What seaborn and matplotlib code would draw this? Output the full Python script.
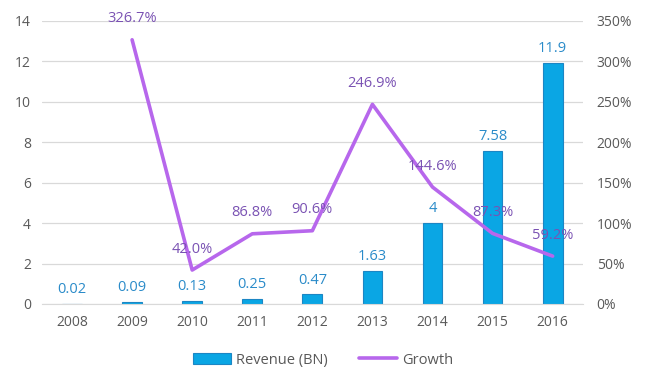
import numpy as np
import pandas as pd
import matplotlib
matplotlib.use("Agg")
import matplotlib.pyplot as plt
import seaborn as sns
from matplotlib.patches import Patch
from matplotlib.lines import Line2D

# data
years = ["2008", "2009", "2010", "2011", "2012", "2013", "2014", "2015", "2016"]
revenue = [0.02, 0.09, 0.13, 0.25, 0.47, 1.63, 4, 7.58, 11.9]
revenue_labels = ["0.02", "0.09", "0.13", "0.25", "0.47", "1.63", "4", "7.58", "11.9"]
growth = [np.nan, 326.7, 42.0, 86.8, 90.6, 246.9, 144.6, 87.3, 59.2]

sns.set_style("white")
plt.rcParams["font.family"] = ["Open Sans", "DejaVu Sans"]

bar_col = "#0AA6E4"
bar_edge = "#1C86C4"
line_col = "#B767EC"
txt_grey = "#595959"

df = pd.DataFrame({"year": years, "revenue": revenue, "growth": growth})
df["pos"] = np.arange(len(years))

fig, ax = plt.subplots(figsize=(6.46, 3.88), dpi=100)
fig.subplots_adjust(left=0.065, right=0.902, top=0.946, bottom=0.2165)

sns.barplot(data=df, x="year", y="revenue", color=bar_col, edgecolor=bar_edge,
            linewidth=0.8, width=0.33, saturation=1, ax=ax)
ax.set_ylim(0, 14)
ax.set_yticks(range(0, 15, 2))
ax.set_xlim(-0.5, len(years) - 0.5)
ax.set_xlabel("")
ax.set_ylabel("")
ax.grid(axis="y", color="#D9D9D9", linewidth=0.9)
ax.set_axisbelow(True)
for s in ["top", "right", "left"]:
    ax.spines[s].set_visible(False)
ax.spines["bottom"].set_color("#D9D9D9")
ax.tick_params(axis="both", length=0, labelsize=10, colors=txt_grey, pad=8)

for i, (v, lab) in enumerate(zip(revenue, revenue_labels)):
    ax.annotate(lab, (i, v), xytext=(0, 5), textcoords="offset points",
                ha="center", va="bottom", fontsize=10.5, color="#2A8BC9")

ax2 = ax.twinx()
sns.lineplot(data=df, x="pos", y="growth", color=line_col, linewidth=2.6, ax=ax2)
ax2.set_ylim(0, 350)
ax2.set_yticks(range(0, 351, 50))
ax2.set_yticklabels([f"{t}%" for t in range(0, 351, 50)])
ax2.set_xlim(-0.5, len(years) - 0.5)
ax2.set_xlabel("")
ax2.set_ylabel("")
for s in ["top", "right", "left", "bottom"]:
    ax2.spines[s].set_visible(False)
ax2.tick_params(axis="both", length=0, labelsize=10, colors=txt_grey, pad=10)

for i, g in enumerate(growth):
    if np.isnan(g):
        continue
    ax2.annotate(f"{g:.1f}%", (i, g), xytext=(0, 15), textcoords="offset points",
                 ha="center", va="center", fontsize=10.5, color="#7A52B3")

handles = [Patch(facecolor=bar_col, edgecolor=bar_edge, linewidth=0.8),
           Line2D([0], [0], color=line_col, linewidth=2.6)]
leg = fig.legend(handles, ["Revenue (BN)", "Growth"], loc="center",
                 bbox_to_anchor=(0.5, 0.072), ncol=2, frameon=False,
                 fontsize=10.5, handlelength=2.6, handletextpad=0.3,
                 columnspacing=2.2)
for t in leg.get_texts():
    t.set_color(txt_grey)

fig.savefig("out.png", dpi=100)
